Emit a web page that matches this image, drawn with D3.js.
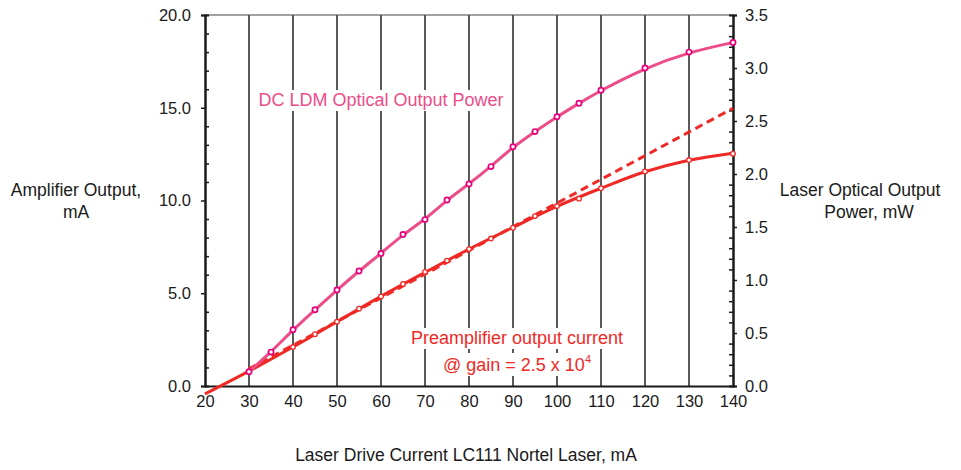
<!DOCTYPE html>
<html>
<head>
<meta charset="utf-8">
<script src="https://cdn.jsdelivr.net/npm/d3@7"></script>
<style>
  body { margin: 0; background: #fff; }
  text { font-family: "Liberation Sans", Arial, Helvetica, sans-serif; }
</style>
</head>
<body>
<div id="graph"></div>
<script>
// drive current (mA) where markers were measured
var pinkX = [30, 35, 40, 45, 50, 55, 60, 65, 70, 75, 80, 85, 90, 95, 100, 105, 110, 120, 130, 140];
// DC LDM optical output power, mW (right axis)
var pinkY = [0.135, 0.32, 0.53, 0.72, 0.905, 1.085, 1.25, 1.43, 1.57, 1.755, 1.905, 2.07, 2.257, 2.40, 2.54, 2.667, 2.79, 3.0, 3.15, 3.24];

// preamplifier output current, mA (left axis)
var redX = [40, 45, 50, 55, 60, 65, 70, 75, 80, 85, 90, 95, 100, 105, 110, 120, 130, 140];
var redY = [2.10, 2.79, 3.47, 4.17, 4.83, 5.50, 6.15, 6.76, 7.38, 7.95, 8.53, 9.16, 9.70, 10.10, 10.66, 11.57, 12.18, 12.52];

// smooth fit through the preamplifier points
var fitX = [20, 30, 40, 50, 60, 70, 80, 90, 100, 110, 120, 130, 140];
var fitY = [-0.43, 0.8, 2.1, 3.47, 4.83, 6.12, 7.38, 8.55, 9.68, 10.66, 11.55, 12.17, 12.55];

// linear extrapolation (dashed)
var dashX = [30, 140];
var dashY = [0.92, 14.97];

var xTicks = [20, 30, 40, 50, 60, 70, 80, 90, 100, 110, 120, 130, 140];
var gridX = [30, 40, 50, 60, 70, 80, 90, 100, 110, 120, 130];
var leftTicks = [0, 5, 10, 15, 20];
var rightTicks = [0, 0.5, 1, 1.5, 2, 2.5, 3, 3.5];

(function() {

    var width = 961, height = 470;
    var mLeft = 205, mRight = 733, mTop = 15, mBottom = 386;

    var pinkColor = '#ec4d89', markColor = '#e5007d', redColor = '#ef2a26', inkColor = '#1a1a1a';

    var svg = d3.select('#graph').append('svg')
        .attr('width', width)
        .attr('height', height);

    var x = d3.scaleLinear().domain([20, 140]).range([mLeft, mRight]);
    var yL = d3.scaleLinear().domain([0, 20]).range([mBottom, mTop]);
    var yR = d3.scaleLinear().domain([0, 3.5]).range([mBottom, mTop]);

    // grid lines
    svg.append('g').selectAll('line')
        .data(gridX)
        .enter().append('line')
        .attr('x1', function(d) { return x(d); })
        .attr('x2', function(d) { return x(d); })
        .attr('y1', mTop)
        .attr('y2', mBottom)
        .attr('stroke', '#000')
        .attr('stroke-width', 1.3);

    // top border
    svg.append('line')
        .attr('x1', mLeft).attr('x2', mRight)
        .attr('y1', mTop).attr('y2', mTop)
        .attr('stroke', '#444').attr('stroke-width', 1);

    // labels on the plot, white boxes behind them mask the grid
    function boxedText(tx, ty, lines, color) {
        var g = svg.append('g');
        lines.forEach(function(l, i) {
            var t = g.append('text')
                .attr('x', tx)
                .attr('y', ty + i * 27)
                .attr('text-anchor', 'middle')
                .attr('font-size', 18)
                .attr('fill', color)
                .text(l.text);
            if (l.sup) {
                t.append('tspan').attr('font-size', 11).attr('dy', -8).text(l.sup);
            }
            var b = t.node().getBBox();
            g.insert('rect', 'text')
                .attr('x', b.x - 2).attr('y', b.y)
                .attr('width', b.width + 4).attr('height', b.height + 1)
                .attr('fill', '#fff');
        });
    }
    boxedText(381, 106, [{ text: 'DC LDM Optical Output Power' }], pinkColor);
    boxedText(517, 344, [{ text: 'Preamplifier output current' }, { text: '@ gain = 2.5 x 10', sup: '4' }], redColor);

    var lineGen = function(sx, sy) {
        return d3.line().x(function(d) { return sx(d[0]); }).y(function(d) { return sy(d[1]); });
    };

    // left axis: major ticks outside, minor ticks inside
    var gl = svg.append('g').attr('transform', 'translate(' + mLeft + ',0)');
    gl.call(d3.axisLeft(yL).tickValues(leftTicks).tickSize(4).tickFormat(d3.format('.1f')));
    gl.append('g').call(d3.axisRight(yL).tickValues(d3.range(0, 21, 1).filter(function(d) { return d % 5; })).tickSize(4).tickFormat(''));

    // right axis
    var gr = svg.append('g').attr('transform', 'translate(' + mRight + ',0)');
    gr.call(d3.axisRight(yR).tickValues(rightTicks).tickSize(4).tickFormat(d3.format('.1f')));
    gr.append('g').call(d3.axisLeft(yR).tickValues(d3.range(1, 35).filter(function(d) { return d % 5; }).map(function(d) { return d / 10; })).tickSize(4).tickFormat(''));

    // bottom axis
    var gb = svg.append('g').attr('transform', 'translate(0,' + mBottom + ')');
    gb.call(d3.axisBottom(x).tickValues(xTicks).tickSize(0).tickPadding(9));

    svg.selectAll('.domain').attr('stroke', inkColor).attr('stroke-width', 2);
    svg.selectAll('.tick line').attr('stroke', inkColor).attr('stroke-width', 1.5);
    svg.selectAll('.tick text')
        .attr('font-size', 16.5)
        .attr('fill', inkColor)
        .attr('font-family', '"Liberation Sans", Arial, sans-serif');
    gl.selectAll('.tick text').attr('x', -14);
    gr.selectAll('.tick text').attr('x', 12);

    // dashed extrapolation
    svg.append('path')
        .datum(d3.zip(dashX, dashY))
        .attr('d', lineGen(x, yL))
        .attr('fill', 'none')
        .attr('stroke', redColor)
        .attr('stroke-width', 3)
        .attr('stroke-dasharray', '8,5');

    // red fit + markers
    svg.append('path')
        .datum(d3.zip(fitX, fitY))
        .attr('d', lineGen(x, yL).curve(d3.curveMonotoneX))
        .attr('fill', 'none')
        .attr('stroke', redColor)
        .attr('stroke-width', 3);

    svg.append('g').selectAll('circle')
        .data(d3.zip(redX, redY))
        .enter().append('circle')
        .attr('cx', function(d) { return x(d[0]); })
        .attr('cy', function(d) { return yL(d[1]); })
        .attr('r', 2.3)
        .attr('fill', '#fff')
        .attr('stroke', redColor)
        .attr('stroke-width', 1.3);

    // pink curve + markers
    svg.append('path')
        .datum(d3.zip(pinkX, pinkY))
        .attr('d', lineGen(x, yR).curve(d3.curveBasis))
        .attr('fill', 'none')
        .attr('stroke', pinkColor)
        .attr('stroke-width', 3);

    svg.append('g').selectAll('circle')
        .data(d3.zip(pinkX, pinkY))
        .enter().append('circle')
        .attr('cx', function(d) { return x(d[0]); })
        .attr('cy', function(d) { return yR(d[1]); })
        .attr('r', 2.6)
        .attr('fill', '#fff')
        .attr('stroke', markColor)
        .attr('stroke-width', 1.7);

    // axis titles
    var titles = [
        { t: 'Amplifier Output,', x: 76, y: 196 },
        { t: 'mA', x: 76, y: 218 },
        { t: 'Laser Optical Output', x: 860, y: 196 },
        { t: 'Power, mW', x: 869, y: 218 },
        { t: 'Laser Drive Current LC111 Nortel Laser, mA', x: 466, y: 461 }
    ];
    svg.append('g').selectAll('text')
        .data(titles)
        .enter().append('text')
        .attr('x', function(d) { return d.x; })
        .attr('y', function(d) { return d.y; })
        .attr('text-anchor', 'middle')
        .attr('font-size', 17.5)
        .attr('fill', inkColor)
        .text(function(d) { return d.t; });

})();
</script>
</body>
</html>
